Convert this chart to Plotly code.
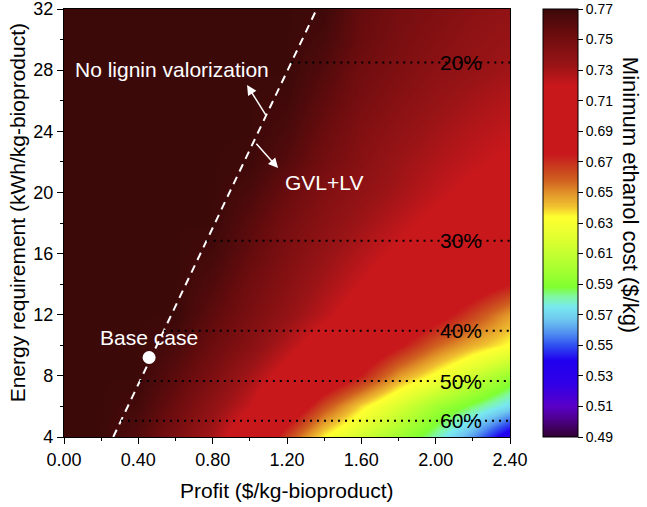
import numpy as np
import plotly.graph_objects as go

# ---------------- data ----------------
profit = [0.0, 0.2, 0.4, 0.6, 0.8, 1.0, 1.2, 1.4, 1.6, 1.8, 2.0, 2.2, 2.4]
energy = [4, 6, 8, 10, 12, 14, 16, 18, 20, 22, 24, 26, 28, 30, 32]
mesp = [
    [0.770, 0.770, 0.762, 0.746, 0.729, 0.703, 0.665, 0.634, 0.615, 0.597, 0.580, 0.559, 0.530],
    [0.770, 0.770, 0.767, 0.753, 0.737, 0.721, 0.693, 0.663, 0.638, 0.617, 0.598, 0.585, 0.572],
    [0.770, 0.770, 0.770, 0.759, 0.746, 0.730, 0.713, 0.693, 0.674, 0.648, 0.631, 0.613, 0.595],
    [0.770, 0.770, 0.770, 0.765, 0.753, 0.741, 0.726, 0.710, 0.694, 0.677, 0.658, 0.644, 0.633],
    [0.770, 0.770, 0.770, 0.770, 0.758, 0.747, 0.736, 0.724, 0.711, 0.696, 0.682, 0.665, 0.647],
    [0.770, 0.770, 0.770, 0.770, 0.763, 0.751, 0.741, 0.730, 0.720, 0.709, 0.697, 0.686, 0.675],
    [0.770, 0.770, 0.770, 0.770, 0.767, 0.756, 0.745, 0.735, 0.726, 0.717, 0.708, 0.702, 0.695],
    [0.770, 0.770, 0.770, 0.770, 0.770, 0.760, 0.749, 0.740, 0.732, 0.724, 0.716, 0.711, 0.705],
    [0.770, 0.770, 0.770, 0.770, 0.770, 0.765, 0.754, 0.744, 0.737, 0.730, 0.723, 0.717, 0.712],
    [0.770, 0.770, 0.770, 0.770, 0.770, 0.769, 0.761, 0.750, 0.741, 0.733, 0.727, 0.722, 0.718],
    [0.770, 0.770, 0.770, 0.770, 0.770, 0.770, 0.765, 0.754, 0.744, 0.737, 0.731, 0.726, 0.722],
    [0.770, 0.770, 0.770, 0.770, 0.770, 0.770, 0.768, 0.758, 0.748, 0.741, 0.735, 0.730, 0.726],
    [0.770, 0.770, 0.770, 0.770, 0.770, 0.770, 0.770, 0.762, 0.751, 0.745, 0.739, 0.735, 0.731],
    [0.770, 0.770, 0.770, 0.770, 0.770, 0.770, 0.770, 0.766, 0.754, 0.747, 0.742, 0.737, 0.734],
    [0.770, 0.770, 0.770, 0.770, 0.770, 0.770, 0.770, 0.769, 0.756, 0.749, 0.745, 0.740, 0.737],
]

# boundary between "No lignin valorization" and "GVL+LV"
boundary_profit = [0.265, 1.36]
boundary_energy = [4, 32]

# base case point
base_profit = [0.458]
base_energy = [9.2]

# lignin-conversion percentage guide lines
pct_energy = [28.5, 16.84, 10.95, 7.66, 5.07]
pct_labels = ["20%", "30%", "40%", "50%", "60%"]

x_ticks = [0.0, 0.4, 0.8, 1.2, 1.6, 2.0, 2.4]
y_ticks = [4, 8, 12, 16, 20, 24, 28, 32]
cb_ticks = [round(0.49 + 0.02 * i, 2) for i in range(15)]

zmin, zmax = 0.49, 0.77
cs_values = [0.49, 0.50, 0.51, 0.525, 0.54, 0.55, 0.558, 0.567, 0.575, 0.582, 0.588,
             0.60, 0.62, 0.634, 0.641, 0.65, 0.658, 0.667, 0.675, 0.72, 0.733, 0.754, 0.77]
cs_colors = ["#300030", "#4a0080", "#5a00c8", "#3000e8", "#2000f0", "#3050f0", "#5090f0",
             "#70c8f0", "#78e8f0", "#80f8a0", "#80ff30", "#a8ff30", "#e0ff30", "#ffff30",
             "#f0c030", "#e09028", "#d06020", "#c83a1e", "#c8181c", "#c8181c", "#9a1416",
             "#6a0c0e", "#3c0909"]

FONT = "Liberation Sans, Arial, sans-serif"

colorscale = [[(v - zmin) / (zmax - zmin), c] for v, c in zip(cs_values, cs_colors)]

fig = go.Figure()

fig.add_trace(go.Heatmap(
    x=profit, y=energy, z=mesp,
    zmin=zmin, zmax=zmax, zsmooth="best",
    colorscale=colorscale,
    colorbar=dict(
        x=1.074, xanchor="left", xpad=0, ypad=0,
        y=0.5, yanchor="middle", len=1, thickness=35,
        outlinecolor="black", outlinewidth=1,
        tickvals=cb_ticks, tickformat=".2f",
        ticks="outside", ticklen=5, tickcolor="black",
        tickfont=dict(family=FONT, size=14, color="black"),
        ticklabeloverflow="allow",
    ),
    hoverinfo="skip",
))

# boundary dashed line
fig.add_trace(go.Scatter(
    x=boundary_profit, y=boundary_energy, mode="lines",
    line=dict(color="white", width=2, dash="8px,6px"),
    showlegend=False, hoverinfo="skip",
))

# percentage dotted lines
for e, lab in zip(pct_energy, pct_labels):
    x_start = float(np.interp(e, boundary_energy, boundary_profit))
    fig.add_trace(go.Scatter(
        x=[x_start, profit[-1]], y=[e, e], mode="lines",
        line=dict(color="black", width=2, dash="2px,5px"),
        showlegend=False, hoverinfo="skip",
    ))
    fig.add_annotation(x=2.135, y=e, text=lab, showarrow=False,
                       font=dict(family=FONT, size=21, color="black"),
                       xanchor="center", yanchor="middle")

# base case marker
fig.add_trace(go.Scatter(
    x=base_profit, y=base_energy, mode="markers",
    marker=dict(color="white", size=13, line=dict(width=0)),
    showlegend=False, hoverinfo="skip",
))

white_font = dict(family=FONT, size=21, color="white")
fig.add_annotation(x=0.579, y=28.07, text="No lignin valorization", showarrow=False,
                   font=white_font, xanchor="center", yanchor="middle")
fig.add_annotation(x=1.40, y=20.68, text="GVL+LV", showarrow=False,
                   font=white_font, xanchor="center", yanchor="middle")
fig.add_annotation(x=0.455, y=10.54, text="Base case", showarrow=False,
                   font=white_font, xanchor="center", yanchor="middle")

# arrows
fig.add_annotation(x=0.985, y=27.02, ax=1.093, ay=24.93, axref="x", ayref="y",
                   text="", showarrow=True, arrowhead=2, arrowsize=1.3,
                   arrowwidth=1.5, arrowcolor="white")
fig.add_annotation(x=1.152, y=21.59, ax=1.028, ay=23.29, axref="x", ayref="y",
                   text="", showarrow=True, arrowhead=2, arrowsize=1.3,
                   arrowwidth=1.5, arrowcolor="white")

# axis titles
fig.add_annotation(x=0.5, y=-0.124, xref="paper", yref="paper",
                   text="Profit ($/kg-bioproduct)", showarrow=False,
                   font=dict(family=FONT, size=21, color="black"),
                   xanchor="center", yanchor="middle")
fig.add_annotation(x=-0.105, y=0.523, xref="paper", yref="paper",
                   text="Energy requirement (kWh/kg-bioproduct)", showarrow=False,
                   textangle=-90,
                   font=dict(family=FONT, size=21, color="black"),
                   xanchor="center", yanchor="middle")
fig.add_annotation(x=1.272, y=0.565, xref="paper", yref="paper",
                   text="Minimum ethanol cost ($/kg)", showarrow=False,
                   textangle=90,
                   font=dict(family=FONT, size=22, color="black"),
                   xanchor="center", yanchor="middle")

fig.update_xaxes(
    range=[0, 2.4], tickvals=x_ticks, tickformat=".2f",
    ticks="outside", ticklen=6, tickwidth=1.2, tickcolor="black",
    minor=dict(dtick=0.2, ticks="outside", ticklen=3, tickcolor="black", tickwidth=1.2),
    showline=True, linecolor="black", linewidth=1.2, mirror=True,
    showgrid=False, zeroline=False, automargin=False,
    ticklabeloverflow="allow",
    tickfont=dict(family=FONT, size=18, color="black"),
)
fig.update_yaxes(
    range=[4, 32], tickvals=y_ticks,
    ticks="outside", ticklen=6, tickwidth=1.2, tickcolor="black",
    minor=dict(dtick=2, ticks="outside", ticklen=3, tickcolor="black", tickwidth=1.2),
    showline=True, linecolor="black", linewidth=1.2, mirror=True,
    showgrid=False, zeroline=False, automargin=False,
    ticklabeloverflow="allow",
    tickfont=dict(family=FONT, size=18, color="black"),
)

fig.update_layout(
    width=647, height=507,
    margin=dict(l=64, r=137, t=9, b=70, autoexpand=False),
    paper_bgcolor="white", plot_bgcolor="white",
    showlegend=False,
    font=dict(family=FONT),
)

fig.write_html("out.html",
               config={"displayModeBar": False},
               post_script="document.body.style.margin='0';document.body.style.padding='0';")
